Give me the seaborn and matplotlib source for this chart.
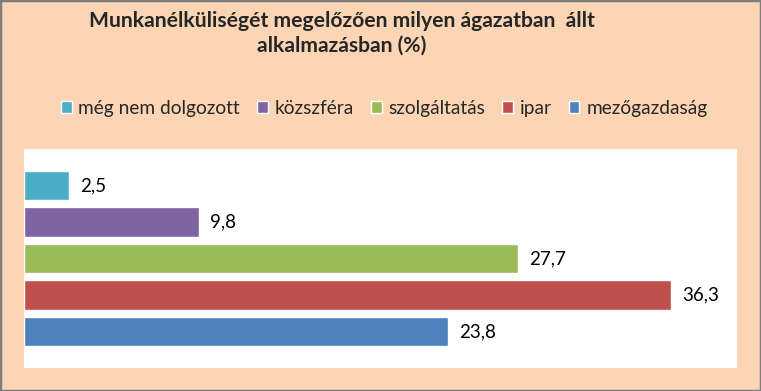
import pandas as pd
import matplotlib.pyplot as plt
import seaborn as sns
from matplotlib.patches import Rectangle, Patch

categories = ['még nem dolgozott', 'közszféra', 'szolgáltatás', 'ipar', 'mezőgazdaság']
values = [2.5, 9.8, 27.7, 36.3, 23.8]
colors = ['#4BACC6', '#8064A2', '#9BBB59', '#C0504D', '#4F81BD']
title = 'Munkanélküliségét megelőzően milyen ágazatban  állt\nalkalmazásban (%)'

df = pd.DataFrame({'agazat': categories, 'szazalek': values})

sns.set_style('white')
plt.rcParams['font.family'] = ['Lato', 'DejaVu Sans']

bg = '#FCD5B5'
fig = plt.figure(figsize=(7.61, 3.91), dpi=100, facecolor=bg)
ax = fig.add_axes([0.0315, 0.059, 0.937, 0.56])

sns.barplot(data=df, y='agazat', x='szazalek', hue='agazat',
            palette=colors, width=0.8, legend=False, ax=ax, saturation=1)

for cont in ax.containers:
    ax.bar_label(cont, labels=[f'{v:.1f}'.replace('.', ',') for v in cont.datavalues],
                 padding=8, fontsize=13.5, color='black')

ax.set_xlim(0, 40)
ax.set_ylim(5, -1)
ax.set_xlabel('')
ax.set_ylabel('')
ax.set_xticks([])
ax.set_yticks([])
for s in ax.spines.values():
    s.set_visible(False)
ax.set_facecolor('white')

handles = [Patch(facecolor=c, label=l) for c, l in zip(colors, categories)]
fig.legend(handles=handles, loc='center', bbox_to_anchor=(0.505, 0.723), ncol=5,
           frameon=False, fontsize=13.8, handlelength=0.55, handleheight=0.6,
           handletextpad=0.35, columnspacing=0.9)

fig.text(0.449, 0.915, title, ha='center', va='center', fontsize=15.2,
         fontweight='bold', linespacing=1.28)

fig.patches.append(Rectangle((0, 0), 1, 1, transform=fig.transFigure,
                             fill=False, edgecolor='#7F7F7F', linewidth=2.5))

fig.savefig('out.png', dpi=100, facecolor=bg)
